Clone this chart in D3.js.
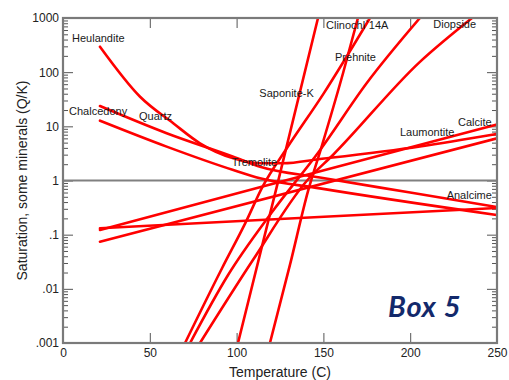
<!DOCTYPE html>
<html>
<head>
<meta charset="utf-8">
<script src="https://cdn.jsdelivr.net/npm/d3@7/dist/d3.min.js"></script>
<style>
  body { margin: 0; background: #fff; }
  svg { display: block; }
</style>
</head>
<body>
<div id="chart"></div>
<script>
// Temperatures (C) and saturation values (Q/K)
const heulanditeT = [21.3, 44.4, 63.5, 78.9, 98.1, 113.5, 126.7, 148, 205.6, 249.8];
const heulanditeQ = [295, 35.2, 11.4, 4.86, 2.57, 2.08, 2.08, 2.49, 4.25, 7.2];
const quartzT = [21.3, 59.7, 98.1, 113.5, 148, 200, 249.8];
const quartzQ = [23.7, 7.46, 2.75, 1.8, 1.135, 0.6, 0.324];
const chalcedonyT = [21.3, 59.7, 98.1, 113.5, 148, 249.8];
const chalcedonyQ = [12.7, 4.22, 1.56, 1.1, 0.716, 0.231];
const calciteT = [21.3, 115, 250];
const calciteQ = [0.122, 0.771, 10.8];
const laumontiteT = [21.3, 250];
const laumontiteQ = [0.074, 6.0];
const analcimeT = [21.3, 113.5, 249.8];
const analcimeQ = [0.131, 0.187, 0.31];
const clinochlT = [100.8, 123.8, 146.9];
const clinochlQ = [0.001, 0.933, 1000];
const prehniteT = [119.2, 130.8, 141.1, 149.2, 161.3, 169.9];
const prehniteQ = [0.001, 0.0282, 0.631, 4.47, 95.5, 1000];
const saponiteT = [70.3, 91.6, 104.8, 115.2, 129, 150, 176.8];
const saponiteQ = [0.001, 0.024, 0.158, 0.794, 3.98, 39.8, 1000];
const tremoliteT = [73.2, 95, 120, 148, 175, 205.6];
const tremoliteQ = [0.001, 0.0178, 0.251, 3.63, 63.1, 1000];
const diopsideT = [78.9, 109.4, 140.6, 155.5, 205.6, 235.6];
const diopsideQ = [0.001, 0.034, 1.0, 2.96, 155, 1000];

const series = [
  [heulanditeT, heulanditeQ], [quartzT, quartzQ], [chalcedonyT, chalcedonyQ],
  [calciteT, calciteQ], [laumontiteT, laumontiteQ], [analcimeT, analcimeQ],
  [clinochlT, clinochlQ], [prehniteT, prehniteQ], [saponiteT, saponiteQ],
  [tremoliteT, tremoliteQ], [diopsideT, diopsideQ]
];

// Mineral labels, anchored at (T, Q) of their left baseline
const labelNames = ["Heulandite", "Chalcedony", "Quartz", "Tremolite", "Saponite-K",
  "Clinochl`14A", "Prehnite", "Diopside", "Laumontite", "Calcite", "Analcime"];
const labelT = [5.2, 3.5, 43.8, 97.2, 113.1, 151.5, 156.7, 213.3, 194.1, 227.5, 221];
const labelQ = [368, 16.2, 13.1, 1.85, 34.8, 626, 161, 653, 6.63, 10.1, 0.446];

const xTicks = [0, 50, 100, 150, 200, 250];
const yTicks = [0.001, 0.01, 0.1, 1, 10, 100, 1000];
const yTickLabels = [".001", ".01", ".1", "1", "10", "100", "1000"];

const margin = { top: 18, right: 12, bottom: 37, left: 63 };
const width = 509 - margin.left - margin.right;
const height = 380 - margin.top - margin.bottom;

const svg = d3.select("#chart").append("svg")
  .attr("width", 509)
  .attr("height", 380)
  .style("font-family", "'Liberation Sans', Arial, sans-serif");

const g = svg.append("g")
  .attr("transform", `translate(${margin.left},${margin.top})`);

const x = d3.scaleLinear().domain([0, 250]).range([0, width]);
const y = d3.scaleLog().domain([0.001, 1000]).range([height, 0]);

// minor ticks for the log axis
const minorTicks = [];
for (let k = -3; k < 3; k++) {
  for (let m = 2; m <= 9; m++) minorTicks.push(m * Math.pow(10, k));
}

// Axes, ticks pointing inward
const tickColor = "#555";
function styleAxis(sel) {
  sel.select(".domain").remove();
  sel.selectAll("line").attr("stroke", tickColor);
  sel.selectAll("text").attr("fill", "#222").style("font-size", "12px")
    .style("font-family", "'Liberation Sans', Arial, sans-serif");
}

g.append("g")
  .call(d3.axisLeft(y).tickValues(minorTicks).tickSize(-5).tickFormat(""))
  .call(styleAxis);
g.append("g")
  .call(d3.axisLeft(y).tickValues(yTicks).tickSize(-10).tickPadding(4)
    .tickFormat((d, i) => yTickLabels[i]))
  .call(styleAxis);
g.append("g")
  .attr("transform", `translate(${width},0)`)
  .call(d3.axisRight(y).tickValues(minorTicks).tickSize(-5).tickFormat(""))
  .call(styleAxis);
g.append("g")
  .attr("transform", `translate(${width},0)`)
  .call(d3.axisRight(y).tickValues(yTicks).tickSize(-10).tickFormat(""))
  .call(styleAxis);

g.append("g")
  .attr("transform", `translate(0,${height})`)
  .call(d3.axisBottom(x).tickValues(xTicks).tickSize(-10).tickPadding(5))
  .call(styleAxis);
g.append("g")
  .call(d3.axisTop(x).tickValues(xTicks).tickSize(-10).tickFormat(""))
  .call(styleAxis);

// Reference line at Q/K = 1
g.append("line")
  .attr("x1", 0).attr("x2", width)
  .attr("y1", y(1)).attr("y2", y(1))
  .attr("stroke", "#808080")
  .attr("stroke-width", 2);

// Clip the curves to the plot box
g.append("clipPath").attr("id", "plot-clip")
  .append("rect").attr("width", width).attr("height", height);

const line = d3.line()
  .x(d => x(d[0]))
  .y(d => y(d[1]))
  .curve(d3.curveMonotoneX);

g.append("g")
  .attr("clip-path", "url(#plot-clip)")
  .selectAll("path")
  .data(series)
  .enter()
  .append("path")
  .attr("d", s => line(s[0].map((t, i) => [t, s[1][i]])))
  .attr("fill", "none")
  .attr("stroke", "#ff0000")
  .attr("stroke-width", 2.6)
  .attr("stroke-linecap", "round");

// Frame
g.append("rect")
  .attr("width", width)
  .attr("height", height)
  .attr("fill", "none")
  .attr("stroke", "#7a7a7a")
  .attr("stroke-width", 2.2);

// Mineral labels
g.selectAll(".mlabel")
  .data(labelNames)
  .enter()
  .append("text")
  .attr("class", "mlabel")
  .attr("x", (d, i) => x(labelT[i]))
  .attr("y", (d, i) => y(labelQ[i]))
  .attr("fill", "#1a1a1a")
  .style("font-size", "11px")
  .text(d => d);

// Axis titles
svg.append("text")
  .attr("x", margin.left + width / 2)
  .attr("y", 377)
  .attr("text-anchor", "middle")
  .attr("fill", "#222")
  .style("font-size", "14px")
  .text("Temperature (C)");

svg.append("text")
  .attr("transform", `translate(27,${margin.top + height / 2}) rotate(-90)`)
  .attr("text-anchor", "middle")
  .attr("fill", "#222")
  .style("font-size", "14px")
  .text("Saturation, some minerals (Q/K)");

// Box label
svg.append("text")
  .attr("x", 388)
  .attr("y", 317)
  .attr("fill", "#13296b")
  .style("font-family", "Lato, 'Open Sans', sans-serif")
  .style("font-weight", "bold")
  .style("font-style", "italic")
  .style("font-size", "29px")
  .style("letter-spacing", "0.8px")
  .text("Box 5");
</script>
</body>
</html>
